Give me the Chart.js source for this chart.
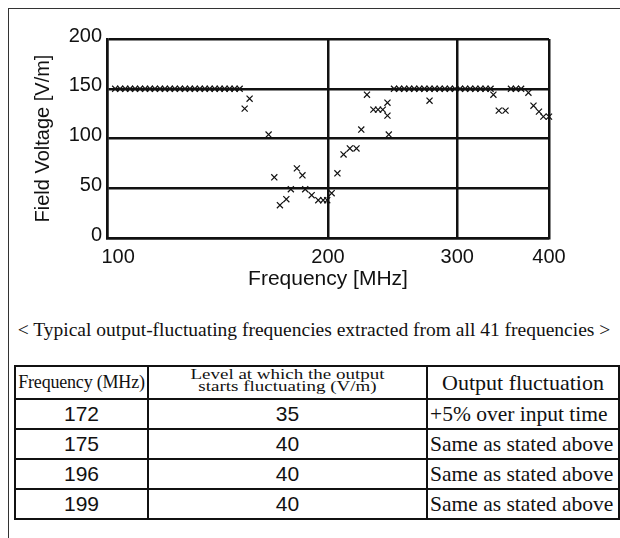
<!DOCTYPE html>
<html>
<head>
<meta charset="utf-8">
<script src="https://cdn.jsdelivr.net/npm/chart.js@4"></script>
<style>
  html, body { margin: 0; padding: 0; background: #fff; }
  body { width: 620px; height: 538px; position: relative; overflow: hidden; }
  #frame { position: absolute; left: 8px; top: 8px; right: -10px; bottom: -10px;
           border-top: 1px solid #333; border-left: 1px solid #333; }
  #c { position: absolute; left: 0; top: 0; }
  #caption { position: absolute; left: 0; width: 628px; top: 319px; text-align: center;
             font-family: "Liberation Serif", "Times New Roman", serif; font-size: 19.5px; color: #111; }
  table { position: absolute; left: 14px; top: 365px; width: 604px; border-collapse: collapse;
          border: 2.5px solid #111; color: #111; table-layout: fixed; }
  td { border: 2px solid #111; padding: 0; text-align: center; height: 28px; white-space: nowrap; overflow: hidden; }
  tr.head td { height: 31px; }
  .serif { font-family: "Liberation Serif", "Times New Roman", serif; }
  .sans { font-family: "Liberation Sans", Arial, sans-serif; font-size: 21px; }
  .h1 { font-size: 18px; letter-spacing: -0.2px; }
  .h2 span { display: inline-block; font-size: 19px; line-height: 16px; transform: scaleY(0.75); margin-top: -4px; }
  .h3 { font-size: 22px; }
  .c3 { font-size: 21.5px; text-align: left; padding-left: 2px; }
</style>
</head>
<body>
<div id="frame"></div>
<canvas id="c" width="620" height="300"></canvas>
<div id="caption">&lt; Typical output-fluctuating frequencies extracted from all 41 frequencies &gt;</div>
<table id="tbl"></table>
<script>
// measured points: frequency (MHz) and field level (V/m)
const freqMHz = [
  102.6, 104.2, 105.9, 107.5, 109.2, 110.9, 112.7, 114.4, 116.2, 118.1, 119.9, 121.8, 123.7,
  125.7, 127.7, 129.7, 131.7, 133.8, 135.9, 138.0, 140.2, 142.4, 144.6, 146.9, 149.2, 151.6,
  154.0, 156.4, 166.0, 169.0, 172.0, 175.5, 178.0, 181.4, 184.6, 186.2, 190.0, 194.0, 197.0, 199.5, 202.3,
  206.0, 210.0, 214.2, 218.7, 222.0, 226.0, 230.6, 234.0, 237.5, 241.0, 241.0, 242.0,
  246.0, 250.0, 254.0, 258.0, 262.1, 266.3, 270.6, 275.0, 279.4, 283.9, 288.5, 293.1, 297.8,
  302.6, 307.5, 312.4, 317.5, 322.6, 327.8, 333.0, 275.0,
  336.0, 341.7, 349.0, 355.0, 360.5, 366.5, 375.0, 381.0, 387.6, 393.0, 400.0
];
const levelVm = [
  150, 150, 150, 150, 150, 150, 150, 150, 150, 150, 150, 150, 150,
  150, 150, 150, 150, 150, 150, 150, 150, 150, 150, 150, 150, 150,
  130, 140, 104, 61, 33, 39, 49, 70, 63, 49, 43, 38, 38, 38, 45,
  65, 84, 90, 90, 109, 144, 129, 129, 129, 136, 123, 104,
  150, 150, 150, 150, 150, 150, 150, 150, 150, 150, 150, 150, 150,
  150, 150, 150, 150, 150, 150, 150, 138,
  144, 128, 128, 150, 150, 150, 146, 133, 127, 122, 122
];
const xTicks = [100, 200, 300, 400];
const yTicks = [0, 50, 100, 150, 200];

// table under the chart
const tableHead = ["Frequency (MHz)", "Level at which the output<br>starts fluctuating (V/m)", "Output fluctuation"];
const tableFreq = ["172", "175", "196", "199"];
const tableLevel = ["35", "40", "40", "40"];
const tableNote = ["+5% over input time", "Same as stated above", "Same as stated above", "Same as stated above"];

const tbl = document.getElementById("tbl");
let html = '<colgroup><col style="width:133px"><col style="width:279px"><col style="width:192px"></colgroup>';
html += '<tr class="head"><td class="serif h1">' + tableHead[0] + '</td><td class="serif h2"><span>' + tableHead[1] +
        '</span></td><td class="serif h3">' + tableHead[2] + '</td></tr>';
for (let i = 0; i < tableFreq.length; i++) {
  html += '<tr><td class="sans">' + tableFreq[i] + '</td><td class="sans">' + tableLevel[i] +
          '</td><td class="serif c3">' + tableNote[i] + '</td></tr>';
}
tbl.innerHTML = html;

const pts = freqMHz.map((f, i) => ({ x: f, y: levelVm[i] }));
const font = { family: "'Liberation Sans', Arial, sans-serif", size: 20 };

new Chart(document.getElementById("c"), {
  type: "scatter",
  data: {
    datasets: [{
      data: pts,
      pointStyle: "crossRot",
      pointRadius: 4.3,
      pointBorderWidth: 1.2,
      borderColor: "#111",
      backgroundColor: "#111",
      clip: false
    }]
  },
  options: {
    responsive: false,
    animation: false,
    layout: { padding: { top: 39, right: 71, left: 0, bottom: 0 } },
    plugins: { legend: { display: false }, tooltip: { enabled: false } },
    scales: {
      x: {
        type: "logarithmic",
        min: 100, max: 400,
        afterBuildTicks: s => { s.ticks = xTicks.map(v => ({ value: v })); },
        afterFit: s => { s.height = 62; },
        ticks: {
          color: "#111", font: font, padding: 7, maxRotation: 0, autoSkip: false,
          callback: v => v === 100 ? "    100" : String(v)
        },
        grid: { color: "#111", lineWidth: 2.5, drawTicks: false },
        border: { color: "#111", width: 2.5 },
        title: { display: true, text: "Frequency [MHz]", color: "#111",
                 font: { family: font.family, size: 21 }, padding: { top: 0, bottom: 8 } }
      },
      y: {
        min: 0, max: 200,
        afterBuildTicks: s => { s.ticks = yTicks.map(v => ({ value: v })); },
        afterFit: s => { s.width = 107; },
        ticks: { color: "#111", font: font, padding: 5, labelOffset: -3 },
        grid: { color: "#111", lineWidth: 2.5, drawTicks: false },
        border: { color: "#111", width: 2.5 },
        title: { display: true, text: "Field Voltage [V/m]", color: "#111",
                 font: { family: font.family, size: 20 }, padding: { top: 31, bottom: 0 } }
      }
    }
  }
});
</script>
</body>
</html>
